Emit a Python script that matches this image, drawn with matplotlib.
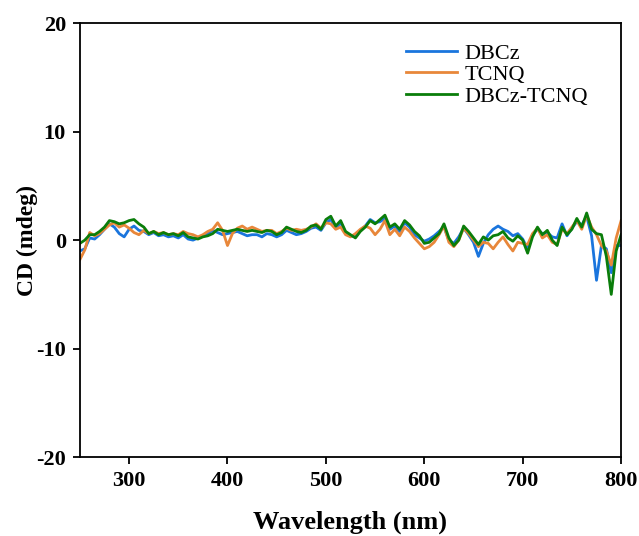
import numpy as np
import matplotlib.pyplot as plt

plt.rcParams['font.family'] = ['Liberation Serif', 'DejaVu Serif']
plt.rcParams['axes.unicode_minus'] = False

# wavelength grid (nm), values every 5 nm
wl = np.arange(250, 801, 5)

dbcz_tcnq = [-0.3, 0.0, 0.5, 0.5, 0.8, 1.2, 1.8, 1.7, 1.5, 1.6,
             1.8, 1.9, 1.5, 1.2, 0.6, 0.8, 0.5, 0.7, 0.5, 0.6,
             0.4, 0.7, 0.3, 0.2, 0.1, 0.3, 0.4, 0.6, 1.0, 0.9,
             0.8, 0.9, 1.0, 0.9, 0.8, 0.9, 0.8, 0.7, 0.9, 0.8,
             0.5, 0.7, 1.2, 1.0, 0.8, 0.7, 0.9, 1.3, 1.4, 1.0,
             1.9, 2.2, 1.3, 1.8, 0.8, 0.5, 0.2, 0.8, 1.2, 1.8,
             1.5, 1.9, 2.3, 1.2, 1.5, 1.0, 1.8, 1.4, 0.8, 0.4,
             -0.3, -0.2, 0.2, 0.6, 1.5, 0.2, -0.5, 0.0, 1.3, 0.8,
             0.2, -0.4, 0.3, 0.0, 0.4, 0.5, 0.8, 0.2, -0.1, 0.4,
             0.0, -1.2, 0.3, 1.2, 0.5, 0.9, 0.0, -0.5, 1.2, 0.5,
             1.0, 2.0, 1.2, 2.5, 1.0, 0.6, 0.5, -1.5, -5.0, -1.0,
             0.5]

dbcz = [-1.0, -0.8, 0.2, 0.1, 0.5, 1.0, 1.5, 1.2, 0.6, 0.3,
        1.0, 1.3, 0.9, 0.8, 0.5, 0.7, 0.4, 0.5, 0.3, 0.4,
        0.2, 0.5, 0.1, 0.0, 0.2, 0.4, 0.6, 0.9, 0.7, 0.5,
        0.6, 0.7, 0.8, 0.6, 0.4, 0.5, 0.5, 0.3, 0.6, 0.5,
        0.3, 0.5, 0.9, 0.7, 0.5, 0.6, 0.8, 1.1, 1.2, 0.9,
        1.6, 1.9, 1.1, 1.6, 0.7, 0.4, 0.3, 0.9, 1.3, 1.9,
        1.6, 1.7, 2.0, 1.0, 1.3, 0.8, 1.6, 1.2, 0.5, 0.2,
        -0.1, 0.1, 0.4, 0.8, 1.2, 0.0, -0.3, 0.3, 1.1, 0.5,
        -0.2, -1.5, -0.3, 0.5, 1.0, 1.3, 1.0, 0.8, 0.4, 0.6,
        0.1, -0.8, 0.5, 1.0, 0.6, 0.7, 0.3, 0.2, 1.5, 0.4,
        1.1, 1.7, 1.4, 2.2, 0.4, -3.7, -0.5, -0.8, -3.0, -0.5,
        -0.5]

tcnq = [-1.8, -0.9, 0.7, 0.4, 0.6, 1.0, 1.4, 1.6, 1.2, 1.4,
        1.1, 0.7, 0.5, 0.9, 0.6, 0.8, 0.6, 0.7, 0.5, 0.6,
        0.5, 0.8, 0.6, 0.5, 0.3, 0.5, 0.8, 1.0, 1.6, 0.9,
        -0.5, 0.6, 1.1, 1.3, 1.0, 1.2, 1.0, 0.8, 0.9, 0.9,
        0.6, 0.8, 1.1, 0.9, 1.0, 0.9, 1.0, 1.2, 1.5, 1.1,
        1.6, 1.5, 1.0, 1.2, 0.5, 0.3, 0.6, 1.0, 1.3, 1.1,
        0.5, 1.0, 1.8, 0.5, 1.0, 0.4, 1.2, 0.8, 0.2, -0.3,
        -0.8, -0.6, -0.2, 0.5, 1.3, -0.2, -0.6, 0.0, 1.1, 0.6,
        0.0, -0.6, -0.2, -0.3, -0.8, -0.2, 0.3, -0.4, -1.0, -0.2,
        -0.3, -0.4, 0.6, 1.1, 0.2, 0.5, -0.2, -0.4, 1.0, 0.6,
        1.2, 1.8, 1.0, 2.3, 1.2, 0.5, -0.5, -1.0, -2.3, 0.2,
        1.8]

fig = plt.figure(figsize=(6.39, 5.36), dpi=100)
ax = fig.add_axes([0.125, 0.147, 0.847, 0.810])

ax.plot(wl, dbcz, color='#1a75dd', lw=2, label='DBCz')
ax.plot(wl, tcnq, color='#e8873a', lw=2, label='TCNQ')
ax.plot(wl, dbcz_tcnq, color='#0a7d0a', lw=2, label='DBCz-TCNQ')

ax.set_xlim(250, 800)
ax.set_ylim(-20, 20)
ax.set_xticks([300, 400, 500, 600, 700, 800])
ax.set_yticks([-20, -10, 0, 10, 20])
ax.tick_params(labelsize=16, width=1.3, length=5, pad=5)
for lab in ax.get_xticklabels() + ax.get_yticklabels():
    lab.set_fontweight('bold')
for sp in ax.spines.values():
    sp.set_linewidth(1.3)

ax.set_xlabel('Wavelength (nm)', fontsize=19, fontweight='bold', labelpad=14)
ax.set_ylabel('CD (mdeg)', fontsize=17, fontweight='bold', labelpad=-1)

ax.legend(loc='upper right', frameon=False, fontsize=16, handlelength=2.3,
          handletextpad=0.3, labelspacing=0.05, bbox_to_anchor=(0.975, 1.0))

fig.savefig('out.png', dpi=100)
